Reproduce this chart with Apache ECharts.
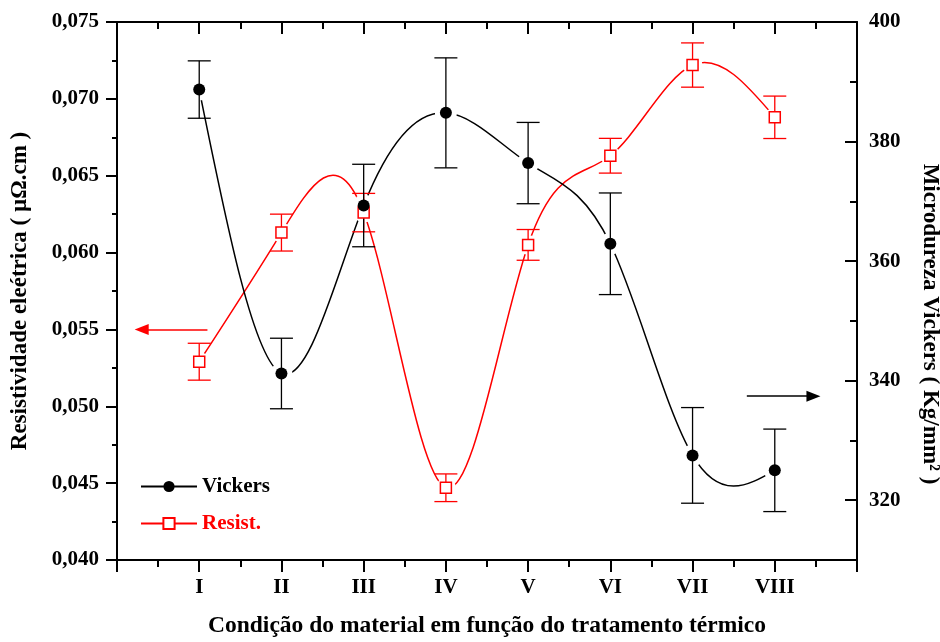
<!DOCTYPE html>
<html>
<head>
<meta charset="utf-8">
<script src="https://cdn.jsdelivr.net/npm/echarts@6/dist/echarts.min.js"></script>
<style>
  html, body { margin: 0; padding: 0; background: #fff; }
  #main { width: 940px; height: 642px; }
</style>
</head>
<body>
<div id="main"></div>
<script>
// condições do tratamento térmico (eixo x)
var conditions = ['I', 'II', 'III', 'IV', 'V', 'VI', 'VII', 'VIII'];
// microdureza Vickers (Kg/mm2), eixo direito
var vickers = [388.7, 341.2, 369.3, 384.8, 376.4, 362.9, 327.5, 325.0];
var vickersErr = [4.8, 5.9, 6.9, 9.2, 6.8, 8.5, 8.0, 6.9];
// resistividade elétrica (µΩ.cm), eixo esquerdo
var resist = [0.0529, 0.0613, 0.0626, 0.0447, 0.0605, 0.0663, 0.0722, 0.0688];
var resistErr = [0.0012, 0.0012, 0.00125, 0.0009, 0.001, 0.00113, 0.00144, 0.00138];
// rótulos do eixo direito
var rightLabels = [320, 340, 360, 380, 400];

var FONT = 'Liberation Serif';
var RED = '#ff0000';
var RIGHT_MIN = 310, RIGHT_MAX = 400;

var chart = echarts.init(document.getElementById('main'), null, { renderer: 'canvas' });

function pairs(vals) {
  return vals.map(function (v, i) { return [i + 1, v]; });
}
function triples(vals, errs) {
  return vals.map(function (v, i) { return [i + 1, v, errs[i]]; });
}

// segundas derivadas de spline cúbica natural (passo 1), como a linha "spline" do Origin
function splineSecond(ys) {
  var n = ys.length, M = [];
  for (var k = 0; k < n; k++) M.push(0);
  var b = [], c = [], d = [];
  for (var i = 1; i < n - 1; i++) {
    b.push(4); c.push(1);
    d.push(6 * (ys[i + 1] - 2 * ys[i] + ys[i - 1]));
  }
  var m = d.length;
  for (i = 1; i < m; i++) {
    var w = 1 / b[i - 1];
    b[i] -= w * c[i - 1];
    d[i] -= w * d[i - 1];
  }
  var sol = [];
  sol[m - 1] = d[m - 1] / b[m - 1];
  for (i = m - 2; i >= 0; i--) sol[i] = (d[i] - c[i] * sol[i + 1]) / b[i];
  for (i = 0; i < m; i++) M[i + 1] = sol[i];
  return M;
}

function splineCurve(vals, color) {
  var M = splineSecond(vals);
  return function (params, api) {
    var i = params.dataIndex;
    if (i >= vals.length - 1) return null;
    var x0 = i + 1, x1 = i + 2, y0 = vals[i], y1 = vals[i + 1];
    var s0 = (y1 - y0) - (2 * M[i] + M[i + 1]) / 6;
    var s1 = (y1 - y0) + (M[i] + 2 * M[i + 1]) / 6;
    var p0 = api.coord([x0, y0]), p3 = api.coord([x1, y1]);
    var p1 = api.coord([x0 + 1 / 3, y0 + s0 / 3]);
    var p2 = api.coord([x1 - 1 / 3, y1 - s1 / 3]);
    return {
      type: 'bezierCurve',
      shape: { x1: p0[0], y1: p0[1], x2: p3[0], y2: p3[1],
               cpx1: p1[0], cpy1: p1[1], cpx2: p2[0], cpy2: p2[1] },
      style: { stroke: color, lineWidth: 1.5, fill: null }
    };
  };
}

function errorBar(color, cap) {
  return function (params, api) {
    var x = api.value(0), y = api.value(1), e = api.value(2);
    var top = api.coord([x, y + e]);
    var bot = api.coord([x, y - e]);
    var st = { stroke: color, lineWidth: 1.3, fill: null };
    return {
      type: 'group',
      children: [
        { type: 'line', shape: { x1: top[0], y1: top[1], x2: bot[0], y2: bot[1] }, style: st },
        { type: 'line', shape: { x1: top[0] - cap, y1: top[1], x2: top[0] + cap, y2: top[1] }, style: st },
        { type: 'line', shape: { x1: bot[0] - cap, y1: bot[1], x2: bot[0] + cap, y2: bot[1] }, style: st }
      ]
    };
  };
}

// buraco branco em volta do ponto (estilo Origin)
function gapDisc(r) {
  return function (params, api) {
    var p = api.coord([api.value(0), api.value(1)]);
    return { type: 'circle', shape: { cx: p[0], cy: p[1], r: r }, style: { fill: '#fff' } };
  };
}

function arrow(color, from, to) {
  return {
    silent: true,
    symbol: ['none', 'triangle'],
    symbolSize: [11, 14],
    label: { show: false },
    lineStyle: { color: color, width: 1.5, type: 'solid' },
    data: [[{ coord: from }, { coord: to }]]
  };
}

var axisLine = { show: true, onZero: false, lineStyle: { color: '#000', width: 2 } };
var tickStyle = { color: '#000', width: 2 };
var labelFont = { fontFamily: FONT, fontWeight: 'bold', fontSize: 21, color: '#000' };

var option = {
  backgroundColor: '#fff',
  animation: false,
  grid: { left: 117, right: 83, top: 22, bottom: 82, containLabel: false, outerBoundsMode: 'none' },
  legend: {
    orient: 'vertical',
    left: 135,
    top: 471,
    itemWidth: 56,
    itemHeight: 14,
    itemGap: 16,
    selectedMode: false,
    textStyle: { fontFamily: FONT, fontWeight: 'bold', fontSize: 21 },
    data: [
      { name: 'Vickers', textStyle: { color: '#000' } },
      { name: 'Resist.', textStyle: { color: RED } }
    ]
  },
  xAxis: [{
    type: 'value',
    position: 'bottom',
    min: 0,
    max: 9,
    interval: 1,
    axisLine: axisLine,
    axisTick: { length: 12, lineStyle: tickStyle },
    minorTick: { show: true, splitNumber: 2, length: 7, lineStyle: tickStyle },
    splitLine: { show: false },
    axisLabel: Object.assign({
      margin: 17,
      formatter: function (v) { return conditions[v - 1] || ''; }
    }, labelFont),
    name: 'Condição do material em função do tratamento térmico',
    nameLocation: 'middle',
    nameGap: 54,
    nameTextStyle: { fontFamily: FONT, fontWeight: 'bold', fontSize: 23.5, color: '#000' }
  }, {
    type: 'value',
    position: 'top',
    min: 0,
    max: 9,
    interval: 1,
    axisLine: axisLine,
    axisTick: { inside: true, length: 12, lineStyle: tickStyle },
    minorTick: { show: true, splitNumber: 2, length: 7, lineStyle: tickStyle },
    splitLine: { show: false },
    axisLabel: { show: false }
  }],
  yAxis: [{
    type: 'value',
    position: 'left',
    min: 0.04,
    max: 0.075,
    interval: 0.005,
    axisLine: axisLine,
    axisTick: { length: 11, lineStyle: tickStyle },
    minorTick: { show: true, splitNumber: 2, length: 5, lineStyle: tickStyle },
    splitLine: { show: false },
    axisLabel: Object.assign({
      margin: 18,
      formatter: function (v) { return v.toFixed(3).replace('.', ','); }
    }, labelFont),
    name: 'Resistividade eleétrica ( µΩ.cm )',
    nameLocation: 'middle',
    nameRotate: 90,
    nameGap: 85,
    nameTextStyle: { fontFamily: FONT, fontWeight: 'bold', fontSize: 23, color: '#000' }
  }, {
    // eixo direito dos dados: ticks curtos de 10 em 10
    type: 'value',
    position: 'right',
    min: RIGHT_MIN,
    max: RIGHT_MAX,
    interval: 10,
    axisLine: axisLine,
    axisTick: { inside: true, length: 7, lineStyle: tickStyle },
    splitLine: { show: false },
    axisLabel: { show: false },
    name: 'Microdureza Vickers ( Kg/mm² )',
    nameLocation: 'middle',
    nameRotate: -90,
    nameGap: 61,
    nameTextStyle: { fontFamily: FONT, fontWeight: 'bold', fontSize: 23, color: '#000', padding: [0, 0, 0, 66] }
  }, {
    // sobreposição invertida, medida a partir de 400: ticks longos e rótulos de 20 em 20
    type: 'value',
    position: 'right',
    inverse: true,
    min: 0,
    max: RIGHT_MAX - RIGHT_MIN,
    interval: 20,
    axisLine: { show: false, onZero: false },
    axisTick: { inside: true, length: 12, lineStyle: tickStyle },
    splitLine: { show: false },
    axisLabel: Object.assign({
      margin: 12,
      formatter: function (v) {
        var real = RIGHT_MAX - v;
        return rightLabels.indexOf(real) >= 0 ? String(real) : '';
      }
    }, labelFont)
  }],
  series: [
    {
      name: 'Resist.', type: 'line', xAxisIndex: 0, yAxisIndex: 0, data: [],
      symbol: 'rect', symbolSize: 10,
      lineStyle: { color: RED, width: 1.5 },
      itemStyle: { color: '#fff', borderColor: RED, borderWidth: 1.5 }
    },
    {
      name: 'Vickers', type: 'line', xAxisIndex: 0, yAxisIndex: 1, data: [],
      symbol: 'circle', symbolSize: 12,
      lineStyle: { color: '#000', width: 1.5 },
      itemStyle: { color: '#000' }
    },
    {
      name: 'curveR', type: 'custom', xAxisIndex: 0, yAxisIndex: 0, silent: true, z: 1,
      renderItem: splineCurve(resist, RED), data: pairs(resist),
      markLine: arrow(RED, [1.1, 0.055], [0.3, 0.055])
    },
    {
      name: 'curveV', type: 'custom', xAxisIndex: 0, yAxisIndex: 1, silent: true, z: 1,
      renderItem: splineCurve(vickers, '#000'), data: pairs(vickers),
      markLine: arrow('#000', [7.66, 337.4], [8.47, 337.4])
    },
    {
      name: 'gapR', type: 'custom', xAxisIndex: 0, yAxisIndex: 0, silent: true, z: 2,
      renderItem: gapDisc(10), data: pairs(resist)
    },
    {
      name: 'gapV', type: 'custom', xAxisIndex: 0, yAxisIndex: 1, silent: true, z: 2,
      renderItem: gapDisc(11), data: pairs(vickers)
    },
    {
      name: 'errR', type: 'custom', xAxisIndex: 0, yAxisIndex: 0, silent: true, z: 3,
      renderItem: errorBar(RED, 11.5), data: triples(resist, resistErr)
    },
    {
      name: 'errV', type: 'custom', xAxisIndex: 0, yAxisIndex: 1, silent: true, z: 3,
      renderItem: errorBar('#000', 11.5), data: triples(vickers, vickersErr)
    },
    {
      name: 'ptsR', type: 'scatter', xAxisIndex: 0, yAxisIndex: 0, silent: true, z: 4,
      symbol: 'rect', symbolSize: 11,
      itemStyle: { color: '#fff', borderColor: RED, borderWidth: 1.5, opacity: 1 },
      data: pairs(resist)
    },
    {
      name: 'ptsV', type: 'scatter', xAxisIndex: 0, yAxisIndex: 1, silent: true, z: 4,
      symbol: 'circle', symbolSize: 12,
      itemStyle: { color: '#000', opacity: 1 },
      data: pairs(vickers)
    }
  ]
};

chart.setOption(option);
</script>
</body>
</html>
